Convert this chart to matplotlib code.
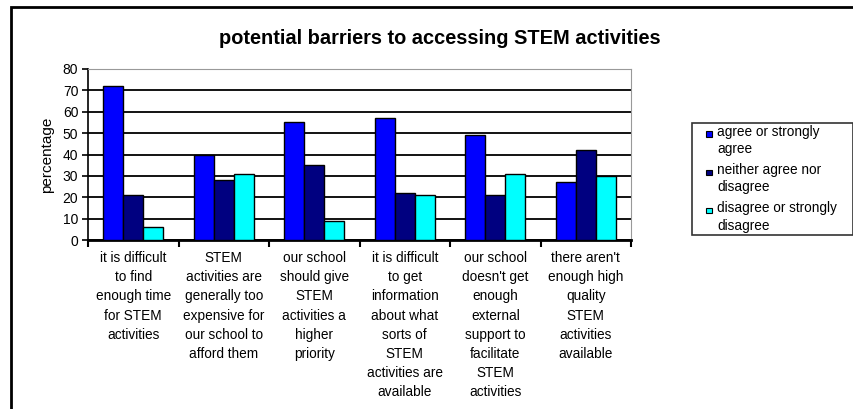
import numpy as np
import matplotlib
matplotlib.use('Agg')
import matplotlib.pyplot as plt
from matplotlib.patches import Rectangle, Patch

plt.rcParams['font.family'] = ['Liberation Sans', 'DejaVu Sans']

categories = [
    "it is difficult\nto find\nenough time\nfor STEM\nactivities",
    "STEM\nactivities are\ngenerally too\nexpensive for\nour school to\nafford them",
    "our school\nshould give\nSTEM\nactivities a\nhigher\npriority",
    "it is difficult\nto get\ninformation\nabout what\nsorts of\nSTEM\nactivities are\navailable",
    "our school\ndoesn't get\nenough\nexternal\nsupport to\nfacilitate\nSTEM\nactivities",
    "there aren't\nenough high\nquality\nSTEM\nactivities\navailable",
]
series_names = ["agree or strongly\nagree", "neither agree nor\ndisagree", "disagree or strongly\ndisagree"]
agree = [72, 40, 55, 57, 49, 27]
neither = [21, 28, 35, 22, 21, 42]
disagree = [6, 31, 9, 21, 31, 30]
colors = ['#0000FF', '#000080', '#00FFFF']


class TopSquare:
    # small square next to the first line of a two-line label
    def legend_artist(self, legend, orig_handle, fontsize, handlebox):
        s = 0.4 * fontsize
        x0 = handlebox.width - s - handlebox.xdescent
        y0 = handlebox.height / 2 - s / 2 + 0.6 * fontsize
        r = Rectangle((x0, y0), s, s, facecolor=orig_handle.get_facecolor(),
                      edgecolor='black', linewidth=0.8, transform=handlebox.get_transform())
        handlebox.add_artist(r)
        return r


fig = plt.figure(figsize=(8.54, 4.09), dpi=100)
ax = fig.add_axes([88/854, 1-240/409, (631-88)/854, (240-69)/409])

x = np.arange(len(categories))
w = 0.22
for i, (vals, c) in enumerate(zip([agree, neither, disagree], colors)):
    ax.bar(x + (i-1)*w, vals, width=w, color=c, edgecolor='black', linewidth=1.0, zorder=3)

ax.set_xlim(-0.5, len(categories)-0.5)
ax.set_ylim(0, 80)
ax.set_yticks(range(0, 81, 10))
ax.yaxis.grid(True, color='black', linewidth=1.3, zorder=0)
ax.set_axisbelow(True)
ax.tick_params(axis='y', direction='out', length=4, width=1.2, labelsize=10, pad=3)

ax.set_xticks(x)
ax.set_xticklabels(categories, fontsize=9.8, linespacing=1.47, va='top')
ax.set_xticks(np.arange(-0.5, len(categories)), minor=True)
ax.tick_params(axis='x', which='major', length=0, pad=8)
ax.tick_params(axis='x', which='minor', length=5, width=1.5, direction='out')

ax.spines['top'].set_color('#999999')
ax.spines['right'].set_color('#999999')
ax.spines['left'].set_linewidth(1.2)
ax.spines['bottom'].set_linewidth(2)

ax.set_ylabel('percentage', fontsize=11, labelpad=6)
fig.text(439.5/854, 1-38/409, 'potential barriers to accessing STEM activities',
         fontsize=14.4, fontweight='bold', ha='center', va='center')

handles = [Patch(facecolor=c) for c in colors]
leg = fig.legend(handles, series_names, loc='upper left',
                 bbox_to_anchor=(692/854, 1-238/409, (853-692)/854, 115/409),
                 mode='expand', borderaxespad=0,
                 fontsize=9.8, frameon=True, fancybox=False, handlelength=1.3,
                 handleheight=0.5, handletextpad=0.42, labelspacing=0.5,
                 borderpad=0.15, handler_map={Patch: TopSquare()})
leg.get_frame().set_edgecolor('black')
leg.get_frame().set_linewidth(1.2)
for t in leg.get_texts():
    t.set_linespacing(1.3)

fig.patches.append(Rectangle((11/854, -0.1), 1.0, 1-7/409+0.1, transform=fig.transFigure,
                             fill=False, edgecolor='black', linewidth=2))

fig.savefig('out.png', dpi=100)
